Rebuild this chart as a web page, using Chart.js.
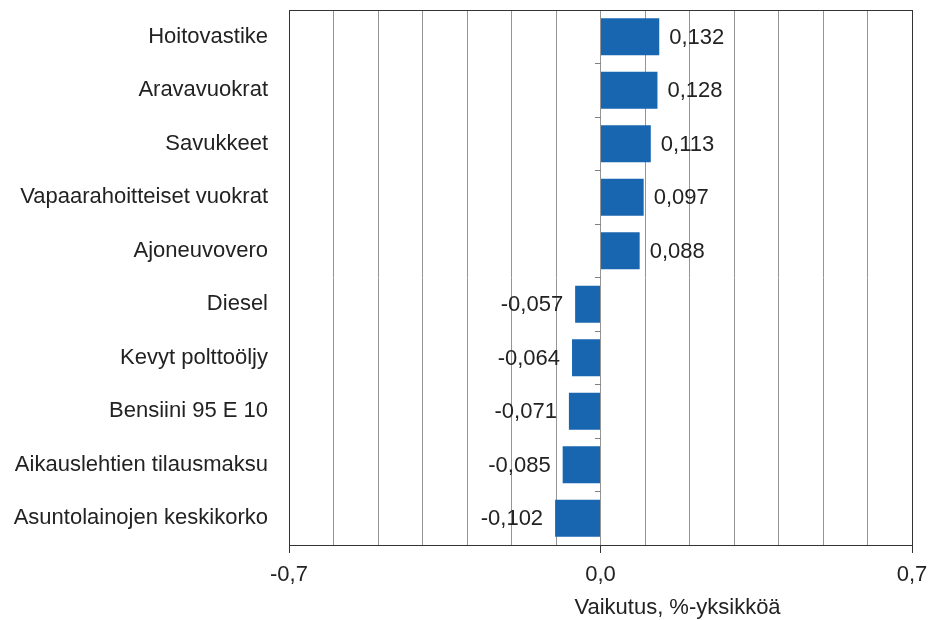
<!DOCTYPE html>
<html>
<head>
<meta charset="utf-8">
<script src="https://cdn.jsdelivr.net/npm/chart.js@4"></script>
<style>
html,body{margin:0;padding:0;background:#fff;}
#wrap{width:931px;height:620px;}
</style>
</head>
<body>
<div id="wrap"><canvas id="c" width="931" height="620"></canvas></div>
<script>
const categories = [
  'Hoitovastike',
  'Aravavuokrat',
  'Savukkeet',
  'Vapaarahoitteiset vuokrat',
  'Ajoneuvovero',
  'Diesel',
  'Kevyt polttoöljy',
  'Bensiini 95 E 10',
  'Aikauslehtien tilausmaksu',
  'Asuntolainojen keskikorko'
];
const values = [0.132, 0.128, 0.113, 0.097, 0.088, -0.057, -0.064, -0.071, -0.085, -0.102];
const labeledTicks = [-0.7, 0, 0.7];
const axisTitle = 'Vaikutus, %-yksikköä';

const FONT = '"Liberation Sans", Arial, sans-serif';
const TEXT = '#222222';
const fmt = (v, d) => v.toFixed(d).replace('.', ',');
const isLabeled = v => labeledTicks.some(t => Math.abs(t - v) < 1e-9);

const extras = {
  id: 'extras',
  beforeDatasetsDraw(chart) {
    const {ctx, chartArea: a} = chart;
    ctx.save();
    ctx.strokeStyle = '#333333';
    ctx.lineWidth = 1;
    ctx.strokeRect(Math.round(a.left) + 0.5, Math.round(a.top) + 0.5,
      Math.round(a.right - a.left), Math.round(a.bottom - a.top));
    ctx.restore();
  },
  afterDatasetsDraw(chart) {
    const {ctx} = chart;
    const meta = chart.getDatasetMeta(0);
    ctx.save();
    ctx.font = '22px ' + FONT;
    ctx.fillStyle = TEXT;
    ctx.textBaseline = 'middle';
    meta.data.forEach((bar, i) => {
      const v = values[i];
      const t = fmt(v, 3);
      if (v >= 0) {
        ctx.textAlign = 'left';
        ctx.fillText(t, bar.x + 10, bar.y + 1);
      } else {
        ctx.textAlign = 'right';
        ctx.fillText(t, bar.x - 12, bar.y + 1);
      }
    });
    ctx.restore();
  },
  afterDraw(chart) {
    const {ctx, chartArea: a} = chart;
    ctx.save();
    ctx.font = '22px ' + FONT;
    ctx.fillStyle = TEXT;
    ctx.textAlign = 'center';
    ctx.textBaseline = 'middle';
    ctx.fillText(axisTitle, (a.left + a.right) / 2 + 77, chart.height - 12);
    ctx.restore();
  }
};

new Chart(document.getElementById('c'), {
  type: 'bar',
  data: {
    labels: categories,
    datasets: [{
      data: values,
      backgroundColor: '#1866B0',
      borderWidth: 0,
      categoryPercentage: 1,
      barPercentage: 0.69
    }]
  },
  options: {
    indexAxis: 'y',
    responsive: false,
    animation: false,
    layout: {padding: {top: 10, right: 19, bottom: 0, left: 0}},
    plugins: {legend: {display: false}, tooltip: {enabled: false}},
    scales: {
      x: {
        type: 'linear',
        min: -0.7,
        max: 0.7,
        afterFit: s => { s.height = 75; s.paddingLeft = 0; s.paddingRight = 0; },
        ticks: {
          stepSize: 0.1,
          autoSkip: false,
          maxRotation: 0,
          padding: 9,
          color: TEXT,
          font: {family: FONT, size: 22},
          callback: v => isLabeled(v) ? fmt(Math.abs(v) < 1e-9 ? 0 : v, 1) : ''
        },
        grid: {
          color: '#959595',
          lineWidth: 1,
          drawTicks: true,
          tickLength: 8,
          tickColor: c => (c.tick && isLabeled(c.tick.value)) ? '#333333' : 'rgba(0,0,0,0)'
        },
        border: {display: false}
      },
      y: {
        type: 'category',
        afterFit: s => { s.width = 289; s.paddingTop = 0; s.paddingBottom = 0; },
        grid: {display: false},
        border: {display: false},
        ticks: {
          padding: 13,
          color: TEXT,
          font: {family: FONT, size: 22}
        }
      },
      y2: {
        axis: 'y',
        type: 'category',
        position: {x: 0},
        offset: true,
        afterFit: s => { s.paddingTop = 0; s.paddingBottom = 0; },
        grid: {offset: true, drawOnChartArea: false, drawTicks: true, tickLength: 6, color: '#808080'},
        border: {display: false},
        ticks: {display: true, padding: 0, callback: () => ''}
      }
    }
  },
  plugins: [extras]
});
</script>
</body>
</html>
